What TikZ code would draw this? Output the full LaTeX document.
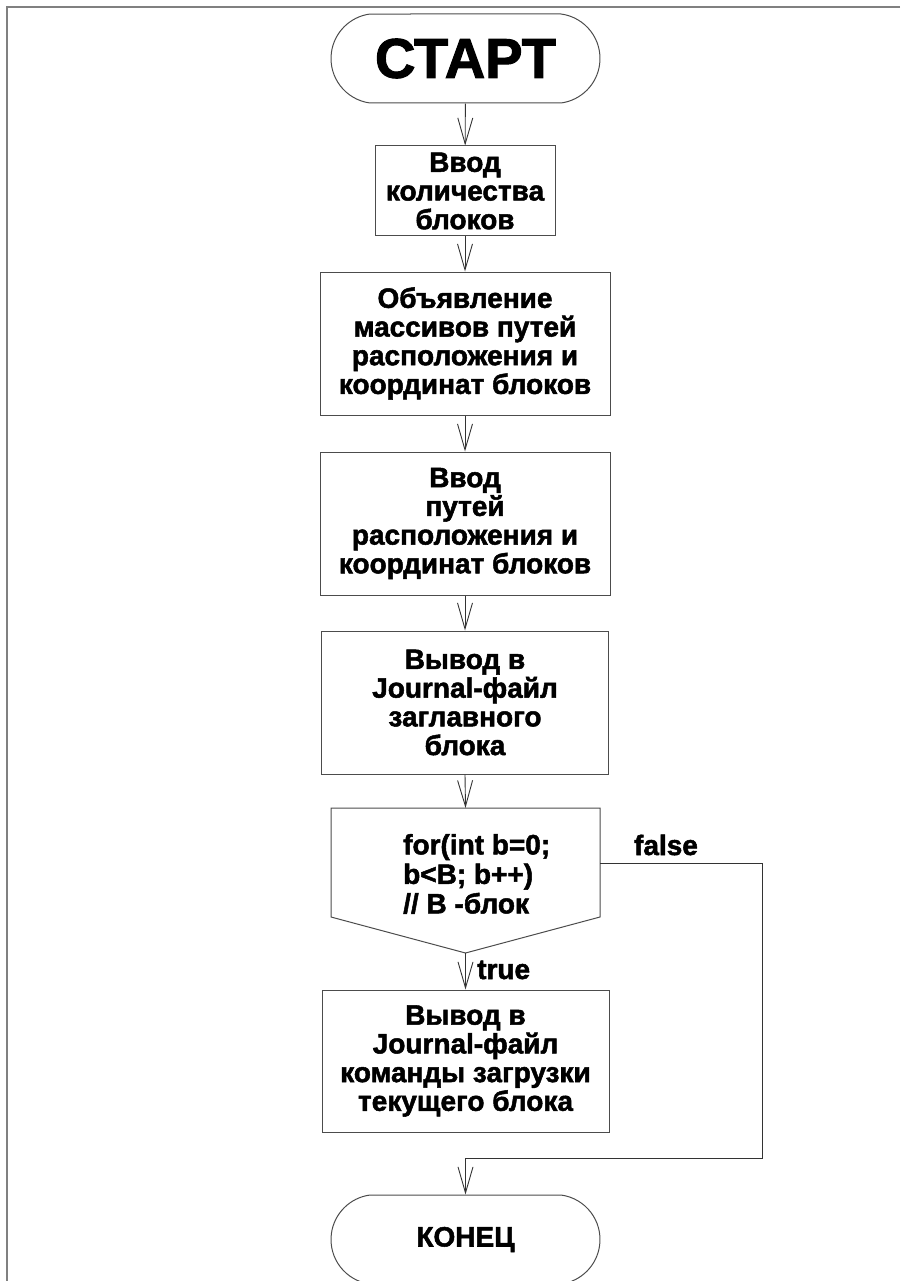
\documentclass[tikz,border=0pt]{standalone}
\usepackage{fontspec}
\setmainfont{Liberation Sans}[BoldFeatures={FakeBold=1.8}]
\usetikzlibrary{arrows.meta,shapes.misc}

\tikzset{
  lineclr/.style={draw=black!70, line width=1pt},
  txt/.style={font=\bfseries\fontsize{28}{28.7}\selectfont, text=black},
  procbox/.style={lineclr, rectangle, inner sep=0pt, txt, align=center},
  termbox/.style={lineclr, rounded rectangle, rounded rectangle arc length=165,
    minimum width=269pt, minimum height=89pt, inner sep=0pt},
  conn/.style={draw=black!80, line width=0.9pt,
    -{Straight Barb[length=26pt,width=15pt,line width=0.9pt]}},
}

\begin{document}
\begin{tikzpicture}[x=1pt,y=-1pt]
\useasboundingbox (0,0) rectangle (900,1281);

% page frame (top and left edges)
\draw[draw=black!50, line width=1.5pt] (900,7) -- (7,7) -- (7,1281);

% terminals
\node[termbox, font=\bfseries\fontsize{56}{56}\selectfont] (start) at (465.5,58.5) {СТАРТ};
\node[termbox, txt] (stop) at (465.5,1239.5) {КОНЕЦ};

% processing blocks
\node[procbox, minimum width=180pt, minimum height=90pt] (b1) at (465,191)
  {Ввод\\количества\\блоков};
\node[procbox, minimum width=290pt, minimum height=143pt] (b2) at (465,343.5)
  {Объявление\\массивов путей\\расположения и\\координат блоков};
\node[procbox, minimum width=290pt, minimum height=143pt] (b3) at (465,523.5)
  {Ввод\\путей\\расположения и\\координат блоков};
\node[procbox, minimum width=287pt, minimum height=143pt] (b4) at (465,702.5)
  {Вывод в\\Journal-файл\\заглавного\\блока};
\node[procbox, minimum width=287pt, minimum height=142pt] (b5) at (465.5,1061)
  {Вывод в\\Journal-файл\\команды загрузки\\текущего блока};

% loop header block
\coordinate (looptop) at (465.5,808);
\coordinate (loopbot) at (465.5,953);
\coordinate (loopright) at (600,863);
\draw[lineclr] (331,808) -- (600,808) -- (600,917) -- (loopbot) -- (331,917) -- cycle;
\node[txt, anchor=west, align=left, inner sep=0pt,
      font=\bfseries\fontsize{28}{29.5}\selectfont] (looptxt) at (403,874)
  {for(int b=0;\\b<B; b++)\\// B -блок};

% labels of the loop exits
\node[txt, inner sep=0pt] (flabel) at (666,845) {false};
\node[txt, inner sep=0pt, anchor=west] (tlabel) at (477,970) {true};

% connectors
\draw[conn] (start) -- (b1);
\draw[conn] (b1) -- (b2);
\draw[conn] (b2) -- (b3);
\draw[conn] (b3) -- (b4);
\draw[conn] (b4.south) -- (looptop);
\draw[conn] (loopbot) -- (b5.north);
\coordinate (fcorner) at (762,1158);
\draw[conn] (loopright) -| (fcorner) -| (stop.north);
\end{tikzpicture}
\end{document}
